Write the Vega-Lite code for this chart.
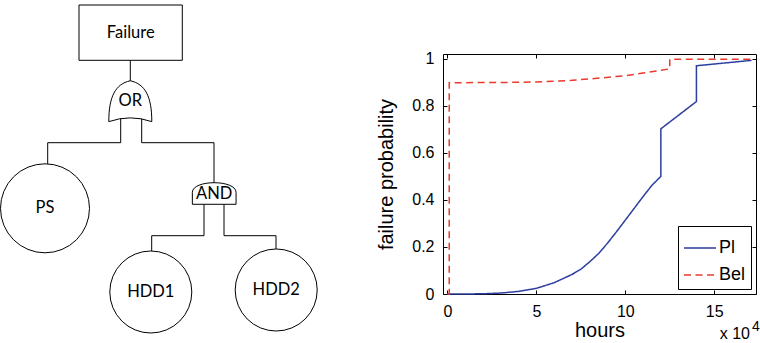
{
  "$schema": "https://vega.github.io/schema/vega-lite/v6.json",
  "width": 313,
  "height": 240,
  "autosize": {"type": "none"},
  "padding": {"left": 443, "top": 54, "right": 4, "bottom": 49},
  "background": "white",
  "config": {
    "view": {"stroke": null},
    "axis": {
      "labelFont": "Liberation Sans",
      "titleFont": "Liberation Sans",
      "labelFontSize": 16,
      "titleFontSize": 20,
      "titleFontWeight": "normal",
      "labelColor": "black",
      "titleColor": "black",
      "domainColor": "black",
      "domainWidth": 1,
      "tickColor": "black",
      "tickWidth": 1,
      "tickSize": -4,
      "labelPadding": 13,
      "labelFlush": false,
      "grid": false
    },
    "legend": {
      "orient": "bottom-right",
      "offset": 5,
      "padding": 5,
      "strokeColor": "black",
      "fillColor": "white",
      "labelFont": "Liberation Sans",
      "labelFontSize": 18,
      "labelColor": "black",
      "symbolType": "stroke",
      "symbolSize": 1024,
      "symbolStrokeWidth": 1.3,
      "rowPadding": 1,
      "labelOffset": 2
    }
  },
  "datasets": {
    "curves": [
      {"series": "Pl", "i": 0, "h": 0, "p": 0},
      {"series": "Pl", "i": 1, "h": 10000, "p": 0},
      {"series": "Pl", "i": 2, "h": 20000, "p": 0.001},
      {"series": "Pl", "i": 3, "h": 30000, "p": 0.004},
      {"series": "Pl", "i": 4, "h": 40000, "p": 0.011},
      {"series": "Pl", "i": 5, "h": 50000, "p": 0.024},
      {"series": "Pl", "i": 6, "h": 60000, "p": 0.048},
      {"series": "Pl", "i": 7, "h": 70000, "p": 0.083},
      {"series": "Pl", "i": 8, "h": 75000, "p": 0.105},
      {"series": "Pl", "i": 9, "h": 80000, "p": 0.137},
      {"series": "Pl", "i": 10, "h": 85000, "p": 0.172},
      {"series": "Pl", "i": 11, "h": 90000, "p": 0.216},
      {"series": "Pl", "i": 12, "h": 95000, "p": 0.264},
      {"series": "Pl", "i": 13, "h": 100000, "p": 0.314},
      {"series": "Pl", "i": 14, "h": 105000, "p": 0.364},
      {"series": "Pl", "i": 15, "h": 110000, "p": 0.414},
      {"series": "Pl", "i": 16, "h": 115000, "p": 0.462},
      {"series": "Pl", "i": 17, "h": 120000, "p": 0.5},
      {"series": "Pl", "i": 18, "h": 120000, "p": 0.702},
      {"series": "Pl", "i": 19, "h": 140000, "p": 0.818},
      {"series": "Pl", "i": 20, "h": 140000, "p": 0.97},
      {"series": "Pl", "i": 21, "h": 171000, "p": 0.993},
      {"series": "Bel", "i": 0, "h": 0, "p": 0},
      {"series": "Bel", "i": 1, "h": 1000, "p": 0},
      {"series": "Bel", "i": 2, "h": 1000, "p": 0.898},
      {"series": "Bel", "i": 3, "h": 30000, "p": 0.899},
      {"series": "Bel", "i": 4, "h": 50000, "p": 0.901},
      {"series": "Bel", "i": 5, "h": 70000, "p": 0.908},
      {"series": "Bel", "i": 6, "h": 86000, "p": 0.918},
      {"series": "Bel", "i": 7, "h": 100000, "p": 0.928},
      {"series": "Bel", "i": 8, "h": 110000, "p": 0.939},
      {"series": "Bel", "i": 9, "h": 125000, "p": 0.957},
      {"series": "Bel", "i": 10, "h": 125000, "p": 0.998},
      {"series": "Bel", "i": 11, "h": 171000, "p": 0.998}
    ],
    "box": [
      {"name": "Failure", "x1": 79, "x2": 182.3, "y1": 5, "y2": 60.3}
    ],
    "edges": [
      {"x1": 130.3, "y1": 60.3, "x2": 130.3, "y2": 82},
      {"x1": 120.7, "y1": 112, "x2": 120.7, "y2": 142.7},
      {"x1": 120.7, "y1": 142.7, "x2": 47.7, "y2": 142.7},
      {"x1": 47.7, "y1": 142.7, "x2": 47.7, "y2": 165},
      {"x1": 141.7, "y1": 112, "x2": 141.7, "y2": 142.7},
      {"x1": 141.7, "y1": 142.7, "x2": 214, "y2": 142.7},
      {"x1": 214, "y1": 142.7, "x2": 214, "y2": 185},
      {"x1": 204, "y1": 200, "x2": 204, "y2": 235.7},
      {"x1": 204, "y1": 235.7, "x2": 151.7, "y2": 235.7},
      {"x1": 151.7, "y1": 235.7, "x2": 151.7, "y2": 253},
      {"x1": 224, "y1": 200, "x2": 224, "y2": 235.7},
      {"x1": 224, "y1": 235.7, "x2": 276, "y2": 235.7},
      {"x1": 276, "y1": 235.7, "x2": 276, "y2": 250}
    ],
    "nodes": [
      {"name": "Failure", "kind": "top", "x": 130.7, "y": 32.7},
      {"name": "OR", "kind": "or", "x": 130.3, "y": 101.2},
      {"name": "AND", "kind": "and", "x": 214.2, "y": 193.5},
      {"name": "PS", "kind": "basic", "x": 45, "y": 208.3},
      {"name": "HDD1", "kind": "basic", "x": 150.8, "y": 292},
      {"name": "HDD2", "kind": "basic", "x": 276.2, "y": 290}
    ]
  },
  "resolve": {"scale": {"x": "independent", "y": "independent"}},
  "layer": [
    {
      "data": {"name": "curves"},
      "resolve": {"axis": {"x": "independent", "y": "independent"}},
      "layer": [
        {
          "mark": {"type": "line", "strokeWidth": 1.5},
          "encoding": {
            "x": {"field": "h", "type": "quantitative",
                  "scale": {"domain": [-2500, 173500], "nice": false, "zero": false},
                  "axis": {"orient": "bottom", "title": "hours", "titlePadding": 1,
                           "values": [0, 50000, 100000, 150000],
                           "labelExpr": "datum.value / 10000"}},
            "y": {"field": "p", "type": "quantitative",
                  "scale": {"domain": [0, 1.02], "nice": false},
                  "axis": {"orient": "left", "title": "failure probability", "titlePadding": 15,
                           "values": [0, 0.2, 0.4, 0.6, 0.8, 1], "format": "~g"}},
            "color": {"field": "series", "type": "nominal",
                      "scale": {"domain": ["Pl", "Bel"], "range": ["#2c3e9e", "#ea3a2f"]},
                      "legend": {"title": null}},
            "strokeDash": {"field": "series", "type": "nominal",
                           "scale": {"domain": ["Pl", "Bel"], "range": [[1, 0], [7, 4.5]]},
                           "legend": {"title": null}},
            "order": {"field": "i", "type": "quantitative"}
          }
        },
        {
          "mark": {"type": "point", "opacity": 0},
          "encoding": {
            "x": {"field": "h", "type": "quantitative",
                  "scale": {"domain": [-2500, 173500], "nice": false, "zero": false},
                  "axis": {"orient": "top", "title": null, "labels": false,
                           "values": [0, 50000, 100000, 150000]}},
            "y": {"field": "p", "type": "quantitative",
                  "scale": {"domain": [0, 1.02], "nice": false},
                  "axis": {"orient": "right", "title": null, "labels": false,
                           "values": [0, 0.2, 0.4, 0.6, 0.8, 1]}}
          }
        },
        {
          "data": {"values": [{"h": 173500, "p": 0, "t": "x 10"}]},
          "mark": {"type": "text", "font": "Liberation Sans", "fontSize": 16, "align": "right",
                   "baseline": "alphabetic", "dx": -6, "dy": 45, "color": "black"},
          "encoding": {
            "x": {"field": "h", "type": "quantitative", "axis": null},
            "y": {"field": "p", "type": "quantitative", "axis": null},
            "text": {"field": "t"}
          }
        },
        {
          "data": {"values": [{"h": 173500, "p": 0, "t": "4"}]},
          "mark": {"type": "text", "font": "Liberation Sans", "fontSize": 14, "align": "left",
                   "baseline": "alphabetic", "dx": -4, "dy": 37, "color": "black"},
          "encoding": {
            "x": {"field": "h", "type": "quantitative", "axis": null},
            "y": {"field": "p", "type": "quantitative", "axis": null},
            "text": {"field": "t"}
          }
        }
      ]
    },
    {
      "layer": [
        {
          "data": {"name": "edges"},
          "mark": {"type": "rule", "color": "black", "strokeWidth": 1},
          "encoding": {
            "x": {"field": "x1", "type": "quantitative", "axis": null,
                  "scale": {"domain": [443, 756], "nice": false, "zero": false}},
            "x2": {"field": "x2"},
            "y": {"field": "y1", "type": "quantitative", "axis": null,
                  "scale": {"domain": [54, 294], "nice": false, "zero": false, "reverse": true}},
            "y2": {"field": "y2"}
          }
        },
        {
          "data": {"name": "box"},
          "mark": {"type": "rect", "fill": "white", "stroke": "black", "strokeWidth": 1},
          "encoding": {
            "x": {"field": "x1", "type": "quantitative", "axis": null,
                  "scale": {"domain": [443, 756], "nice": false, "zero": false}},
            "x2": {"field": "x2"},
            "y": {"field": "y1", "type": "quantitative", "axis": null,
                  "scale": {"domain": [54, 294], "nice": false, "zero": false, "reverse": true}},
            "y2": {"field": "y2"}
          }
        },
        {
          "data": {"name": "nodes"},
          "transform": [{"filter": "datum.kind === 'or'"}],
          "mark": {"type": "point", "filled": true, "fill": "white", "stroke": "black", "strokeWidth": 1,
                   "opacity": 1, "size": 1849,
                   "shape": "M0,-0.95 C0.7,-0.8 1,-0.2 1,0.95 Q0,0.6 -1,0.95 C-1,-0.2 -0.7,-0.8 0,-0.95 Z"},
          "encoding": {
            "x": {"field": "x", "type": "quantitative", "axis": null,
                  "scale": {"domain": [443, 756], "nice": false, "zero": false}},
            "y": {"field": "y", "type": "quantitative", "axis": null,
                  "scale": {"domain": [54, 294], "nice": false, "zero": false, "reverse": true}}
          }
        },
        {
          "data": {"name": "nodes"},
          "transform": [{"filter": "datum.kind === 'and'"}],
          "mark": {"type": "point", "filled": true, "fill": "white", "stroke": "black", "strokeWidth": 1,
                   "opacity": 1, "size": 1910,
                   "shape": "M-1,0.494 L-1,-0.05 C-1,-0.642 1,-0.642 1,-0.05 L1,0.494 Z"},
          "encoding": {
            "x": {"field": "x", "type": "quantitative", "axis": null,
                  "scale": {"domain": [443, 756], "nice": false, "zero": false}},
            "y": {"field": "y", "type": "quantitative", "axis": null,
                  "scale": {"domain": [54, 294], "nice": false, "zero": false, "reverse": true}}
          }
        },
        {
          "data": {"name": "nodes"},
          "transform": [{"filter": "datum.name === 'PS'"}],
          "mark": {"type": "point", "shape": "circle", "filled": true, "fill": "white", "stroke": "black",
                   "strokeWidth": 1, "opacity": 1, "size": 7921},
          "encoding": {
            "x": {"field": "x", "type": "quantitative", "axis": null,
                  "scale": {"domain": [443, 756], "nice": false, "zero": false}},
            "y": {"field": "y", "type": "quantitative", "axis": null,
                  "scale": {"domain": [54, 294], "nice": false, "zero": false, "reverse": true}}
          }
        },
        {
          "data": {"name": "nodes"},
          "transform": [{"filter": "datum.kind === 'basic' && datum.name !== 'PS'"}],
          "mark": {"type": "point", "shape": "circle", "filled": true, "fill": "white", "stroke": "black",
                   "strokeWidth": 1, "opacity": 1, "size": 6724},
          "encoding": {
            "x": {"field": "x", "type": "quantitative", "axis": null,
                  "scale": {"domain": [443, 756], "nice": false, "zero": false}},
            "y": {"field": "y", "type": "quantitative", "axis": null,
                  "scale": {"domain": [54, 294], "nice": false, "zero": false, "reverse": true}}
          }
        },
        {
          "data": {"name": "nodes"},
          "mark": {"type": "text", "font": "Lato", "fontSize": 16.5, "color": "black",
                   "align": "center", "baseline": "middle"},
          "encoding": {
            "x": {"field": "x", "type": "quantitative", "axis": null,
                  "scale": {"domain": [443, 756], "nice": false, "zero": false}},
            "y": {"field": "y", "type": "quantitative", "axis": null,
                  "scale": {"domain": [54, 294], "nice": false, "zero": false, "reverse": true}},
            "text": {"field": "name"}
          }
        }
      ]
    }
  ]
}
